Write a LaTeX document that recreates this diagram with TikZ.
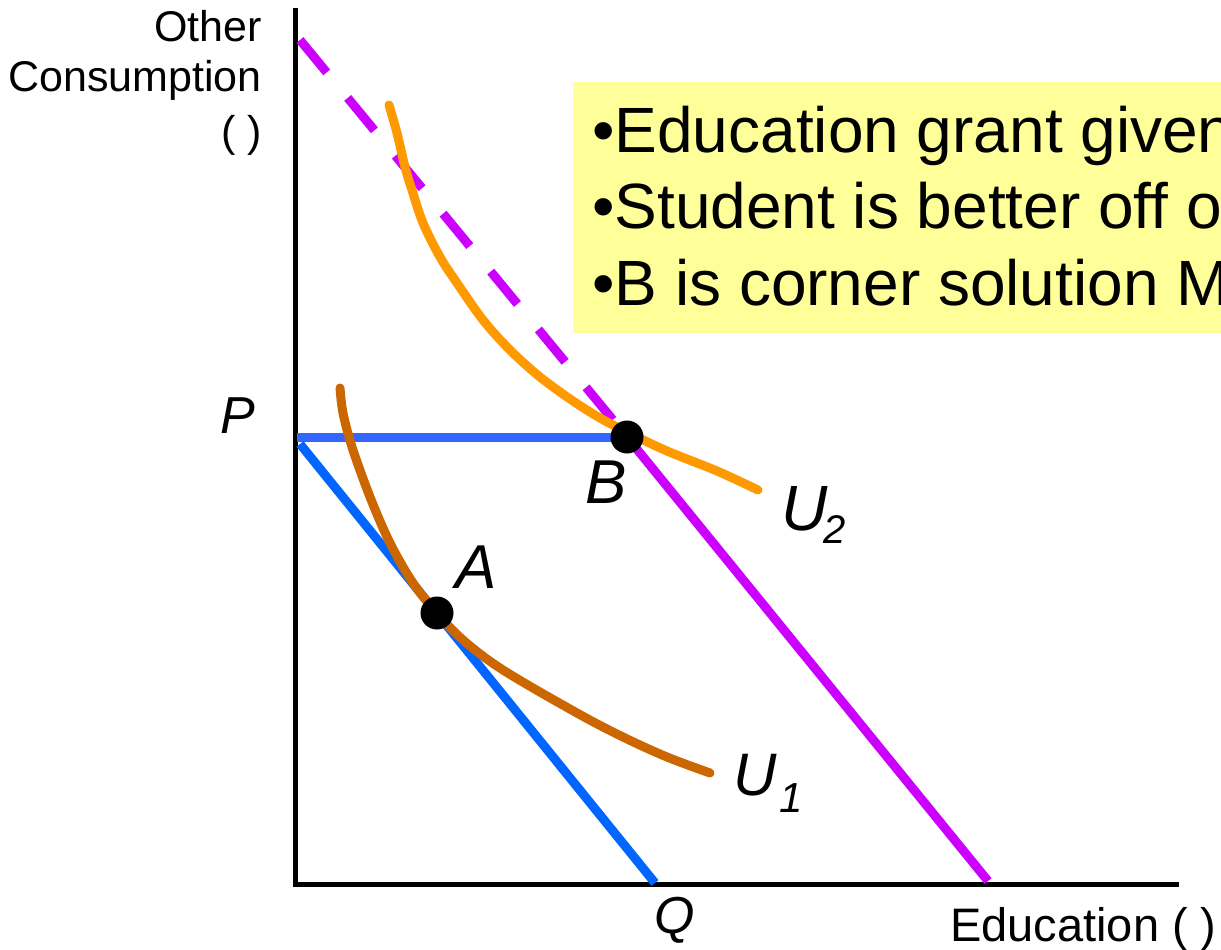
\documentclass[tikz,border=0pt]{standalone}
\usepackage{fontspec}
\setmainfont{Liberation Sans}
\definecolor{magentaL}{HTML}{CC00FF}
\definecolor{blueH}{HTML}{3366FF}
\definecolor{blueD}{HTML}{0066FF}
\definecolor{orangeU}{HTML}{FF9900}
\definecolor{brownU}{HTML}{CC6600}
\definecolor{boxyellow}{HTML}{FFFF99}
\tikzset{
  axisline/.style={line width=5pt, black},
  budget/.style={line width=9pt},
  icurve/.style={line width=9pt, line cap=round, line join=round},
  dot/.style={circle, fill=black, minimum size=33pt, inner sep=0pt},
  lbl/.style={inner sep=0pt, anchor=base west},
  boxtxt/.style={inner sep=0pt, anchor=base west, font=\fontsize{64}{76}\selectfont},
  axtxt/.style={inner sep=0pt, font=\fontsize{43}{47}\selectfont},
}
\begin{document}
\begin{tikzpicture}[x=1pt,y=-1pt]
\useasboundingbox (0,0) rectangle (1221,950);
\clip (0,0) rectangle (1221,950);
% text box
\fill[boxyellow] (573,82) rectangle (1240,333);
\node[boxtxt] (t1) at (592,152) {•Education grant given};
\node[boxtxt] (t2) at (592,228) {•Student is better off o};
\node[boxtxt] (t3) at (592,305) {•B is corner solution M};
% axes
\coordinate (O) at (295,884);
\coordinate (Ytop) at (295,8);
\coordinate (Xend) at (1179,884);
\draw[axisline] (Ytop) -- (295,886.5);
\draw[axisline] (292.5,884) -- (Xend);
% points
\coordinate (Bp) at (627,437);
\coordinate (Ap) at (437,613);
\coordinate (Pstart) at (297,437);
\coordinate (Dstart) at (300,444);
\coordinate (Qend) at (655,883);
\coordinate (Mstart) at (300,40);
\coordinate (Mend) at (988,881);
% budget lines
\draw[budget, blueH] (Pstart) -- (Bp);
\draw[budget, blueD] (Dstart) -- (Qend);
\draw[budget, magentaL, dash pattern=on 42pt off 33pt] (Mstart) -- (Bp);
\draw[budget, magentaL] (Bp) -- (Mend);
% indifference curves
\draw[icurve, brownU] plot[smooth, tension=0.55] coordinates {(340,388) (343,413) (352,447) (370,497) (390,543) (413,583) (437,613) (463,640) (503,670) (577,713) (623,737) (667,757) (710,773)};
\draw[icurve, orangeU] plot[smooth, tension=0.55] coordinates {(389,105) (397,133) (405,167) (412,190) (423,223) (440,257) (457,283) (483,320) (510,350) (540,377) (573,401) (600,418) (627,432) (667,451) (717,471) (758,490)};
% dots
\node[dot] (A) at (Ap) {};
\node[dot] (B) at (Bp) {};
% labels
\node[lbl, font=\fontsize{52}{60}\selectfont\itshape] (P) at (220,433) {P};
\node[lbl, font=\fontsize{62}{70}\selectfont\itshape] (Bl) at (585,503) {B};
\node[lbl, font=\fontsize{62}{70}\selectfont\itshape] (Al) at (455,588) {A};
\node[lbl, font=\fontsize{52}{60}\selectfont\itshape] (Q) at (654,933) {Q};
\node[lbl, font=\fontsize{64}{70}\selectfont\itshape] (U2) at (781,530) {U};
\node[lbl, font=\fontsize{40}{44}\selectfont\itshape] (U2s) at (823,543) {2};
\node[lbl, font=\fontsize{60}{66}\selectfont\itshape] (U1) at (733,795) {U};
\node[lbl, font=\fontsize{42}{46}\selectfont\itshape] (U1s) at (779,812) {1};
\node[axtxt, anchor=base west, font=\fontsize{47}{50}\selectfont] (edu) at (950,941) {Education ( )};
\node[axtxt, anchor=base east] (oc1) at (262,42) {Other};
\node[axtxt, anchor=base east] (oc2) at (262,92) {Consumption};
\node[axtxt, anchor=base east] (oc3) at (262,146) {( )};
\end{tikzpicture}
\end{document}
